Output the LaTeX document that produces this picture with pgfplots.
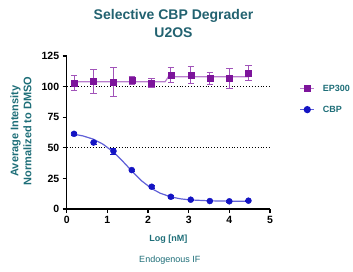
\documentclass[border=0pt]{standalone}
\usepackage{fontspec}
\setmainfont{Liberation Sans}
\usepackage{pgfplots}
\pgfplotsset{compat=1.18}
\definecolor{teal1}{RGB}{34,98,112}
\definecolor{teal2}{RGB}{30,110,120}
\definecolor{eppurple}{RGB}{125,20,155}
\definecolor{eplight}{RGB}{185,125,205}
\definecolor{cbpblue}{RGB}{20,20,195}
\definecolor{cbplight}{RGB}{95,95,215}
\begin{document}
\begin{tikzpicture}
\path[use as bounding box] (0,0) rectangle (353bp,272bp);
\node[font=\fontsize{14bp}{18bp}\selectfont\bfseries, text=teal1, align=center] at (173.5bp,249bp) {Selective CBP Degrader\\U2OS};
\begin{axis}[
  at={(66.7bp,63bp)}, anchor=south west,
  scale only axis, width=203.3bp, height=153bp,
  xmin=0, xmax=5, ymin=0, ymax=125,
  axis x line*=bottom, axis y line*=left,
  axis line style={line width=1.3bp, -},
  xtick={0,1,2,3,4,5}, ytick={0,25,50,75,100,125},
  tick align=outside, major tick length=4bp,
  tick style={line width=1.3bp, black},
  clip=false,
  /pgf/number format/assume math mode=true,
  ticklabel style={font=\fontsize{10.5bp}{12bp}\selectfont\bfseries},
  xlabel={Log [nM]},
  xlabel style={font=\fontsize{9bp}{11bp}\selectfont\bfseries, text=teal2, at={(axis description cs:0.5,-0.2)}, anchor=center},
  ylabel={Average Intensity\\Normalized to DMSO},
  ylabel style={font=\fontsize{11bp}{13bp}\selectfont\bfseries, text=teal2, align=center, at={(axis description cs:-0.225,0.51)}, anchor=center},
  legend style={draw=none, fill=none, at={(rel axis cs:1.145,0.825)}, anchor=north west, font=\fontsize{9bp}{11bp}\selectfont\bfseries, text=teal2, row sep=9bp, legend cell align=left, inner sep=0pt},
  legend image code/.code={\draw[mark repeat=2,mark phase=2] plot coordinates {(0bp,0bp) (7bp,0bp) (14bp,0bp)};},
]
% reference lines
\addplot[black, dotted, line width=0.9bp, forget plot] coordinates {(0,100) (5,100)};
\addplot[black, dotted, line width=0.9bp, forget plot] coordinates {(0,50) (5,50)};
% EP300 fit
\addplot[eplight, line width=1.2bp, forget plot] coordinates {(0.18,104) (2.42,104) (2.5,108) (4.47,108)};
% CBP fit
\addplot[cbplight, line width=1.2bp, forget plot] coordinates {
(0.18,61.1) (0.4,59.7) (0.66,57.0) (0.9,52.8) (1.15,46.5) (1.35,40.0) (1.6,31.1) (1.85,22.8) (2.09,16.7) (2.3,12.9) (2.56,9.9) (2.8,8.3) (3.05,7.4) (3.5,6.7) (4.0,6.4) (4.47,6.3)};
% EP300 data
\addplot[eppurple, only marks, forget plot, mark=square*, mark size=3bp, mark options={fill=eppurple, draw=eppurple},
  error bars/.cd, y dir=both, y explicit, error bar style={eplight!60!eppurple, line width=1bp}, error mark options={rotate=90, mark size=3.2bp, eplight!60!eppurple, line width=1bp}]
  table[x=x, y=y, y error=e] {
x y e
0.18 102.7 6
0.66 104.1 10
1.15 103.8 12
1.60 104.9 3.5
2.09 103.0 4
2.56 109.5 6
3.05 109.2 7
3.52 106.5 5
4.00 106.5 8
4.47 110.9 6
};
% CBP data
\addplot[cbpblue, only marks, forget plot, mark=*, mark size=3bp, mark options={fill=cbpblue, draw=cbpblue},
  error bars/.cd, y dir=both, y explicit, error bar style={cbpblue, line width=1bp}, error mark options={rotate=90, mark size=3bp, cbpblue}]
  table[x=x, y=y, y error=e] {
x y e
0.18 61.4 1
0.66 54.3 1
1.15 47.3 2.5
1.60 31.8 1
2.09 18.2 1
2.56 10.0 1
3.05 7.6 0.5
3.52 6.5 0.5
4.00 6.3 0.5
4.47 6.8 0.5
};
\addlegendimage{eplight, line width=1.2bp, mark=square*, mark size=3bp, mark options={fill=eppurple, draw=eppurple}}
\addlegendentry{\hspace*{6bp}EP300}
\addlegendimage{cbplight, line width=1.2bp, mark=*, mark size=3bp, mark options={fill=cbpblue, draw=cbpblue}}
\addlegendentry{\hspace*{6bp}CBP}
\node[font=\fontsize{9bp}{11bp}\selectfont, text=teal2] at (axis description cs:0.507,-0.335) {Endogenous IF};
\end{axis}
\end{tikzpicture}
\end{document}
